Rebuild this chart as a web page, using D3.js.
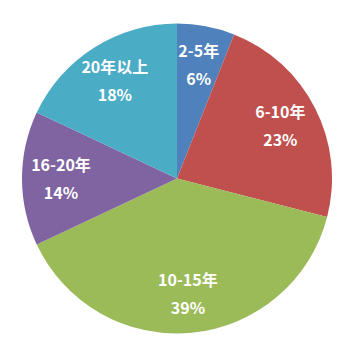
<!DOCTYPE html>
<html lang="zh">
<head>
<meta charset="UTF-8">
<title>Pie</title>
<script src="https://d3js.org/d3.v7.min.js"></script>
<style>
  body { margin: 0; background: #fff; }
</style>
</head>
<body>
<div id="chart"></div>
<script>
const categories = ["2-5年", "6-10年", "10-15年", "16-20年", "20年以上"];
const values = [6, 23, 39, 14, 18];
const colors = ["#4F81BD", "#C0504D", "#9BBB59", "#8064A2", "#4BACC6"];

const width = 355, height = 355;
const cx = 177, cy = 178.5, radius = 155;

const svg = d3.select("#chart").append("svg")
  .attr("width", width)
  .attr("height", height);

const g = svg.append("g")
  .attr("transform", `translate(${cx},${cy})`);

const data = categories.map((c, i) => ({ name: c, value: values[i], color: colors[i] }));

const pie = d3.pie().sort(null).value(d => d.value);
const arc = d3.arc().innerRadius(0).outerRadius(radius);
const labelArc = d3.arc().innerRadius(116).outerRadius(116);

const arcs = pie(data);
const total = d3.sum(values);

g.selectAll("path")
  .data(arcs)
  .enter().append("path")
  .attr("d", arc)
  .attr("fill", d => d.data.color);

const labels = g.selectAll(".label")
  .data(arcs)
  .enter().append("text")
  .attr("class", "label")
  .attr("transform", d => `translate(${labelArc.centroid(d)})`)
  .attr("text-anchor", "middle")
  .style("font-family", "'Noto Sans CJK SC', 'Noto Sans', sans-serif")
  .style("font-weight", "bold")
  .style("font-size", "16px")
  .attr("fill", "#fff");

labels.append("tspan")
  .attr("x", 0)
  .attr("y", -8)
  .text(d => d.data.name);

labels.append("tspan")
  .attr("x", 0)
  .attr("y", 20)
  .text(d => Math.round(d.data.value / total * 100) + "%");
</script>
</body>
</html>
